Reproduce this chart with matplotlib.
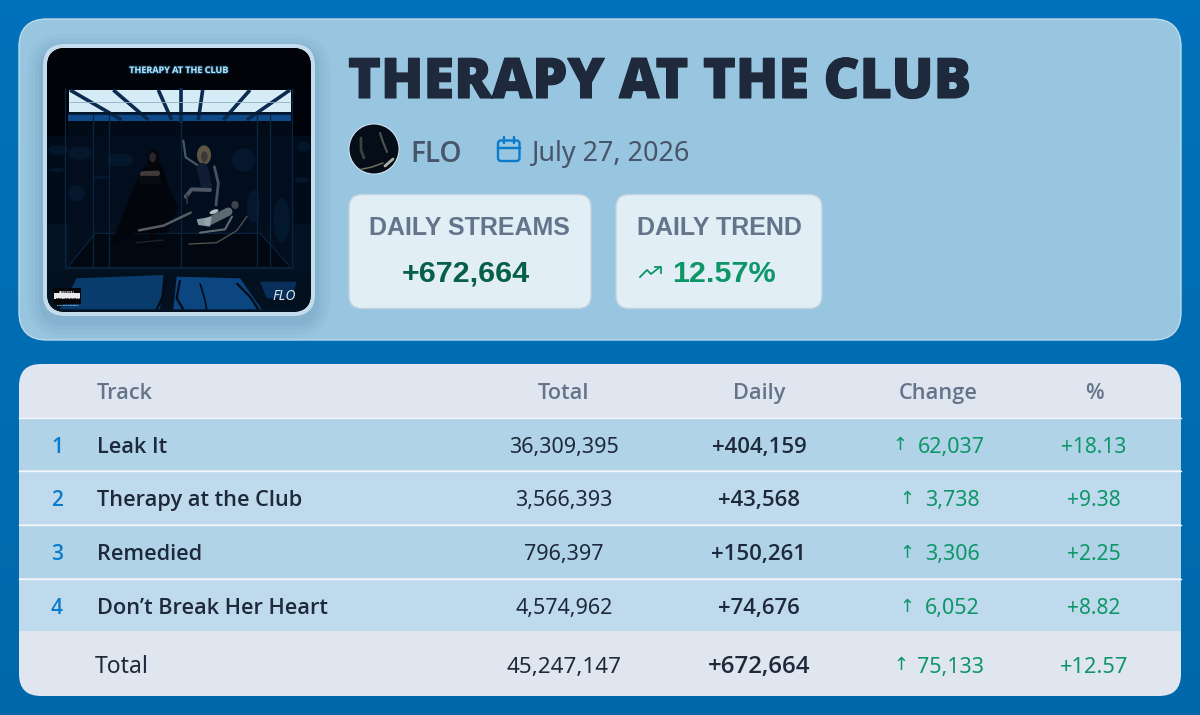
import numpy as np
import matplotlib
matplotlib.use("Agg")
import matplotlib.pyplot as plt
from matplotlib.patches import FancyBboxPatch, Rectangle, Polygon, Circle, Ellipse
from matplotlib.lines import Line2D
import matplotlib.patheffects as pe

album = "THERAPY AT THE CLUB"
artist = "FLO"
release = "July 27, 2026"
daily_label = "DAILY STREAMS"
daily_value = "+672,664"
trend_label = "DAILY TREND"
trend_value = "12.57%"

columns = ["Track", "Total", "Daily", "Change", "%"]
ranks = ["1", "2", "3", "4"]
tracks = ["Leak It", "Therapy at the Club", "Remedied", "Don\u2019t Break Her Heart"]
totals = ["36,309,395", "3,566,393", "796,397", "4,574,962"]
dailies = ["+404,159", "+43,568", "+150,261", "+74,676"]
changes = ["62,037", "3,738", "3,306", "6,052"]
percents = ["+18.13", "+9.38", "+2.25", "+8.82"]
sum_label = "Total"
sum_total = "45,247,147"
sum_daily = "+672,664"
sum_change = "75,133"
sum_percent = "+12.57"

FONT = ["Noto Sans", "DejaVu Sans"]
BOLD = ["Open Sans", "DejaVu Sans"]
ARIAL = ["Liberation Sans", "DejaVu Sans"]
GREEN = "#0d9668"
NAVY = "#1e293b"
SLATE = "#64748b"

fig = plt.figure(figsize=(12, 7.15), dpi=100)
ax = fig.add_axes([0, 0, 1, 1])

bg = np.linspace(0, 1, 64)[:, None]
top, bot = np.array([0, 114, 187]) / 255, np.array([0, 104, 170]) / 255
ax.imshow(top + (bot - top) * bg[..., None], extent=(0, 1200, 715, 0), aspect="auto", zorder=0)
ax.set_xlim(0, 1200)
ax.set_ylim(715, 0)
ax.axis("off")


def rbox(x0, y0, x1, y1, r, fc, ec="none", lw=0, z=1, **kw):
    p = FancyBboxPatch((x0 + r, y0 + r), x1 - x0 - 2 * r, y1 - y0 - 2 * r,
                       boxstyle=f"round,pad={r},rounding_size={r}",
                       fc=fc, ec=ec, lw=lw, zorder=z, **kw)
    ax.add_patch(p)
    return p


def txt(x, y, s, px, color=NAVY, weight="normal", ha="left", family=FONT, z=5, **kw):
    return ax.text(x, y, s, fontsize=px * 0.72, color=color, fontweight=weight, ha=ha,
                   va="baseline", family=family, zorder=z, **kw)


# header card
rbox(19, 19, 1181, 340, 28, "#98c5e0", ec="#bcd9ea", lw=1.0)

# cover frame
for g, a in [(16, .03), (12, .03), (8, .04), (4, .05)]:
    rbox(43 - g, 44 - g + 6, 315 + g, 316 + g + 6, 22 + g, "#1c4f78", z=1.5, alpha=a)
rbox(43, 44, 315, 316, 22, "#c4dcec", z=2)
clip = rbox(47, 48, 311, 312, 19, "#01040a", z=3)


def art(patch):
    ax.add_patch(patch)
    patch.set_clip_path(clip)
    return patch


def Z(pts):
    return [(20 + a / 3, 20 + b / 3) for a, b in pts]


def poly(pts, c, z=3.2, alpha=1):
    return art(Polygon(Z(pts), closed=True, fc=c, ec="none", zorder=z, alpha=alpha))


def ln(pts, c, w=1.0, z=3.6, alpha=1, cap="butt"):
    xs, ys = zip(*Z(pts))
    l = Line2D(xs, ys, color=c, lw=w, zorder=z, alpha=alpha, solid_capstyle=cap, solid_joinstyle="round")
    ax.add_line(l)
    l.set_clip_path(clip)


def limb(pts, c, w, z=3.8):
    ln(pts, c, w, z, cap="round")


def dot(x, y, w, h, c, z=3.8, alpha=1, ang=0):
    (cx, cy), = Z([(x, y)])
    return art(Ellipse((cx, cy), w / 3, h / 3, angle=ang, fc=c, ec="none", zorder=z, alpha=alpha))


# room: dark gradient walls
im = ax.imshow(np.array([[0.0], [0.45], [1.0]]), extent=(47, 311, 312, 48), aspect="auto", zorder=3.05,
               cmap=matplotlib.colors.LinearSegmentedColormap.from_list(
                   "c", ["#00030a", "#020e1c", "#031324"]))
im.set_clip_path(clip)
ax.set_xlim(0, 1200)
ax.set_ylim(715, 0)
poly([(85, 85), (870, 85), (870, 205), (85, 205)], "#010308", 3.1)
poly([(145, 300), (815, 300), (815, 740), (145, 740)], "#030f1e", 3.15, 0.8)
for (x, y, w, h) in [(115, 390, 60, 30), (110, 450, 50, 12), (245, 472, 50, 10), (180, 400, 70, 40),
                     (785, 600, 50, 130), (850, 380, 40, 30), (845, 480, 45, 16), (670, 420, 70, 70),
                     (300, 420, 80, 40), (700, 560, 40, 100), (170, 520, 50, 50)]:
    dot(x, y, w, h, "#08294a", 3.2, 0.35)
# ceiling
poly([(148, 210), (812, 210), (812, 275), (148, 275)], "#d5ebf5", 3.3)
poly([(145, 283), (812, 283), (812, 302), (145, 302)], "#0e4a8a", 3.3)
for pts in [[(150, 210), (305, 300)], [(280, 210), (385, 300)], [(415, 210), (455, 300)],
            [(482, 205), (482, 310)], [(548, 210), (535, 300)], [(690, 210), (610, 300)],
            [(810, 210), (680, 300)]]:
    ln(pts, "#0b2a50", 2.6)
ln([(148, 245), (812, 245)], "#8fb0c2", 0.6)
ln([(145, 278), (812, 278)], "#061a33", 2.0)
# frame verticals
for x in [135, 218, 268, 482, 712, 750, 815]:
    ln([(x, 205 if x in (135, 482, 815) else 278), (x, 745)], "#0a2540", 0.9, 3.5)
poly([(145, 740), (810, 740), (720, 640), (225, 640)], "#020811", 3.22)
ln([(135, 745), (815, 745)], "#0b2338", 1.4)
ln([(145, 740), (225, 640), (720, 640), (810, 740)], "#0a2540", 0.8)
# floor
poly([(85, 752), (870, 752), (870, 870), (85, 870)], "#02101f", 3.25)
poly([(170, 775), (430, 765), (420, 868), (120, 868)], "#0a3b6d", 3.3)
poly([(470, 770), (660, 775), (725, 868), (460, 868)], "#0c4680", 3.3)
poly([(720, 785), (830, 785), (815, 835), (740, 835)], "#08305a", 3.3)
ln([(440, 775), (430, 825), (410, 868)], "#020a14", 1.4, 3.5)
ln([(480, 780), (470, 835), (490, 868)], "#020a14", 1.6, 3.5)
ln([(540, 790), (555, 840), (560, 868)], "#020a14", 1.2, 3.5)
ln([(650, 790), (690, 830), (715, 868)], "#020a14", 1.6, 3.5)
# left figure
poly([(370, 440), (425, 430), (445, 500), (475, 560), (440, 640), (345, 640), (270, 680), (345, 490)],
     "#02050b", 3.7)
dot(400, 420, 34, 66, "#050609", 3.75)
dot(398, 412, 20, 30, "#2b2629", 3.8)
limb([(368, 462), (412, 460)], "#423a3b", 4, 3.8)
limb([(370, 480), (412, 480)], "#0a0b10", 6, 3.85)
# chair
limb([(350, 668), (430, 660)], "#1f232b", 1.0, 3.85)
limb([(395, 540), (395, 660)], "#05060a", 3.0, 3.75)
# centre figure
limb([(490, 362), (497, 412), (532, 435)], "#465664", 1.6)
dot(552, 405, 42, 58, "#5f5544", 3.75)
dot(553, 410, 20, 32, "#3a3739", 3.8)
limb([(547, 445), (560, 500)], "#101d33", 8, 3.8)
limb([(583, 440), (595, 490), (588, 555)], "#4a5260", 2.0)
limb([(570, 510), (515, 508), (497, 530)], "#4f5663", 2.8)
limb([(500, 525), (500, 548)], "#30343d", 1.4)
# lying figure
limb([(357, 631), (430, 617), (512, 578)], "#585c63", 1.8, 3.9)
limb([(565, 605), (625, 575)], "#5f6972", 6, 3.9)
dot(645, 555, 22, 24, "#3e444c", 3.9)
limb([(540, 638), (615, 628), (636, 590)], "#616870", 1.5, 3.95)
poly([(530, 598), (575, 590), (570, 620), (535, 615)], "#9eb0b6", 3.95, 0.85)
dot(582, 575, 28, 12, "#c2d3d6", 3.95, 0.9, -20)
ln([(505, 672), (590, 668), (650, 632), (682, 588)], "#57574c", 0.9, 3.85)
# cover text
t = txt(178.5, 73, album, 9.0, "#b5e2f5", "bold", "center", BOLD, z=4)
t.set_path_effects([pe.withStroke(linewidth=1.5, foreground="#1d6aa0", alpha=0.5)])
t.set_clip_path(clip)
poly([(100, 805), (182, 805), (182, 852), (100, 852)], "#05070a", 4)
poly([(103, 818), (179, 818), (179, 836), (103, 836)], "#e8e8e8", 4.1)
txt(67.5, 293.5, "PARENTAL", 3.1, "#e8e8e8", "bold", "center", ARIAL, z=4.2)
txt(67.5, 302.5, "ADVISORY", 5, "#05070a", "bold", "center", ARIAL, z=4.2)
txt(67.5, 306.3, "EXPLICIT CONTENT", 2.3, "#e8e8e8", "bold", "center", ARIAL, z=4.2)
txt(284, 300, artist, 14, "#dbe7f0", "normal", "center", FONT, z=4.2, style="italic")

# title
t = txt(348, 98, album, 55.7, NAVY, "black", family=BOLD)
t.set_path_effects([pe.withStroke(linewidth=0.8, foreground=NAVY)])

# artist avatar
ax.add_patch(Circle((374, 149), 25.5, fc="#dbe7f0", ec="none", zorder=3))
av = Circle((374, 149), 24.5, fc="#050d18", ec="none", zorder=3.1)
ax.add_patch(av)
for (xs, ys, c, w) in [([361, 361, 364], [138, 150, 158], "#39423f", 2.0),
                       ([380, 383, 387], [133, 142, 152], "#4c5650", 1.5),
                       ([358, 372, 383], [170, 167, 163], "#6c6f5e", 1.1),
                       ([385, 393], [166, 159], "#aab0a6", 2.0)]:
    l = Line2D(xs, ys, color=c, lw=w, zorder=3.2, solid_capstyle="round")
    ax.add_line(l)
    l.set_clip_path(av)
txt(410, 162, artist, 28, "#475569", "semibold", family=BOLD)

# calendar icon
cal = "#0a7ccc"
rbox(498, 140.5, 519.5, 161, 3, "none", ec=cal, lw=1.7, z=3)
ax.add_line(Line2D([498, 519.5], [147.5, 147.5], color=cal, lw=1.7, zorder=3))
for x in [504, 513.5]:
    ax.add_line(Line2D([x, x], [137, 143], color=cal, lw=1.7, zorder=3, solid_capstyle="round"))
txt(531, 161, release, 27, "#475569")

# stat cards
for x0, x1 in [(349, 591), (616, 822)]:
    rbox(x0, 194.5, x1, 308.5, 13, "#e1eef6", ec="#c2d2dc", lw=1.0, z=2)
txt(469.5, 235, daily_label, 25, SLATE, "bold", "center", ARIAL)
txt(719, 235, trend_label, 25, SLATE, "bold", "center", ARIAL)
txt(465.5, 282, daily_value, 30.5, "#065f46", "bold", "center", ARIAL)
txt(672, 282, trend_value, 30.5, GREEN, "bold", "left", ARIAL)
ax.add_line(Line2D([640, 647, 651, 660], [277, 270, 274, 267], color=GREEN, lw=1.3, zorder=5))
ax.add_line(Line2D([654.5, 660.5, 660.5], [266.5, 266.5, 272.5], color=GREEN, lw=1.3, zorder=5))

# table card
card = rbox(19, 364, 1181, 696, 22, "#e0e6ef", z=2)
col_x = [97, 564, 759, 938, 1094]
row_top = [419, 471, 525, 579]
row_bot = [470, 524, 578, 631]
row_fc = ["#b0d3e8", "#bfdaec", "#b0d3e8", "#bfdaec"]
for a, b, fc in zip(row_top, row_bot, row_fc):
    ax.add_patch(Rectangle((19, a), 1162, b - a, fc=fc, ec="none", zorder=2.2))
for y in [418, 470.5, 524.5, 578.5]:
    ax.add_line(Line2D([19, 1181], [y, y], color="#f0f6fa", lw=1.0, zorder=2.3))

header_base = 399
for i, c in enumerate(columns):
    txt(col_x[i], header_base, c, 21.8, SLATE, "semibold", "left" if i == 0 else "center", BOLD)

bases = [453, 506, 560, 614]
arrow_x = [900, 907, 907, 907]
chg_x = [918, 925, 925, 925]
for i in range(4):
    y = bases[i]
    txt(57, y, ranks[i], 21, "#0a7ccc", "semibold", "center", BOLD)
    txt(col_x[0], y, tracks[i], 21.8, NAVY, "semibold", family=BOLD)
    txt(col_x[1], y, totals[i], 21.5, NAVY, ha="center")
    txt(col_x[2], y, dailies[i], 22.3, NAVY, "semibold", "center", BOLD)
    txt(arrow_x[i], y - 2.5, "\u2191", 18, GREEN, ha="center", family=["DejaVu Sans"])
    txt(chg_x[i], y, changes[i], 21.5, GREEN)
    txt(col_x[4], y, percents[i], 21, GREEN, ha="center")

y = 673
txt(95, y, sum_label, 23, NAVY)
txt(col_x[1], y, sum_total, 22.4, NAVY, ha="center")
txt(col_x[2], y, sum_daily, 24, NAVY, "semibold", "center", BOLD)
txt(901, y - 3.5, "\u2191", 18, GREEN, ha="center", family=["DejaVu Sans"])
txt(917, y, sum_change, 21.5, GREEN)
txt(col_x[4], y, sum_percent, 21.8, GREEN, ha="center")

fig.savefig("out.png", dpi=100)
